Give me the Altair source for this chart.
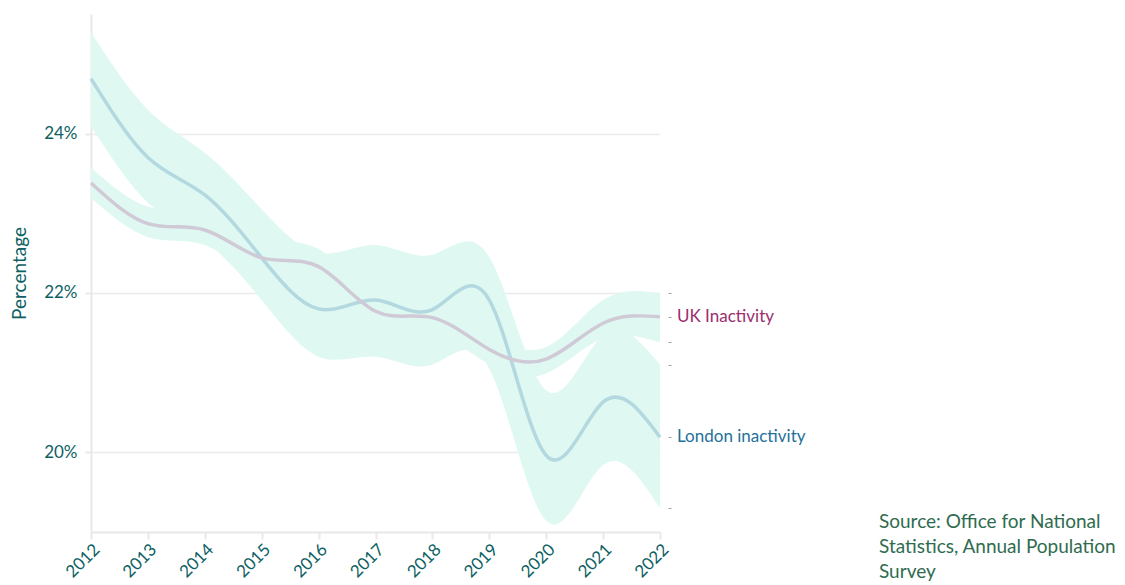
import altair as alt
import pandas as pd

years = [2012, 2013, 2014, 2015, 2016, 2017, 2018, 2019, 2020, 2021, 2022]

london = [24.69, 23.70, 23.23, 22.44, 21.80, 21.91, 21.79, 21.91, 19.96, 20.63, 20.19]
london_low = [24.09, 23.13, 22.65, 21.91, 21.20, 21.20, 21.10, 21.05, 19.14, 19.84, 19.30]
london_high = [25.27, 24.30, 23.76, 23.05, 22.50, 22.60, 22.48, 22.45, 20.78, 21.47, 21.10]

uk = [23.38, 22.87, 22.79, 22.44, 22.33, 21.77, 21.69, 21.29, 21.17, 21.62, 21.70]
uk_low = [23.19, 22.70, 22.60, 22.20, 22.10, 21.55, 21.50, 21.10, 20.99, 21.43, 21.38]
uk_high = [23.57, 23.08, 23.00, 22.70, 22.55, 22.00, 21.90, 21.50, 21.32, 21.91, 22.00]

y_ticks = [20, 22, 24]
source_lines = ["Source: Office for National", "Statistics, Annual Population", "Survey"]

FONT = "Lato"
TEAL = "#0d5f63"
BAND = "#dff9f2"

df = pd.DataFrame({
    "year": years * 2,
    "value": london + uk,
    "low": london_low + uk_low,
    "high": london_high + uk_high,
    "series": ["London inactivity"] * len(years) + ["UK Inactivity"] * len(years),
})

x = alt.X("year:Q",
          scale=alt.Scale(domain=[2012, 2022], nice=False, zero=False),
          axis=alt.Axis(values=years, format="d", title=None, grid=False,
                        labelAngle=-45, labelAlign="right", labelBaseline="top",
                        labelFont=FONT, labelFontSize=17, labelColor=TEAL,
                        labelPadding=2,
                        domainColor="#e8e8e8", domainWidth=2,
                        tickColor="#e8e8e8", tickWidth=2, tickSize=7))
y_scale = alt.Scale(domain=[19, 25.5], nice=False, zero=False)

bands = alt.Chart(df).mark_area(interpolate="natural", color=BAND, opacity=1).encode(
    x=x,
    y=alt.Y("low:Q", scale=y_scale,
            axis=alt.Axis(values=y_ticks, labelExpr="datum.value + '%'",
                          title="Percentage", titleFont=FONT, titleFontSize=19,
                          titleFontWeight="normal", titleColor=TEAL, titlePadding=14,
                          labelFont=FONT, labelFontSize=17, labelColor=TEAL,
                          labelPadding=8,
                          gridColor="#ebebeb", gridWidth=1.5,
                          domainColor="#e8e8e8", domainWidth=2,
                          tickColor="#e8e8e8", tickWidth=2, tickSize=6)),
    y2="high:Q",
    detail="series:N",
)

lines = alt.Chart(df).mark_line(interpolate="natural", strokeWidth=3.5).encode(
    x="year:Q",
    y=alt.Y("value:Q", scale=y_scale),
    color=alt.Color("series:N",
                    scale=alt.Scale(domain=["London inactivity", "UK Inactivity"],
                                    range=["#b3d8e0", "#d0c9d6"]),
                    legend=None),
)

last = df[df["year"] == years[-1]]
labels = alt.Chart(last).mark_text(align="left", baseline="middle", dx=17,
                                   font=FONT, fontSize=17).encode(
    x="year:Q",
    y=alt.Y("value:Q", scale=y_scale),
    text="series:N",
    color=alt.Color("series:N",
                    scale=alt.Scale(domain=["London inactivity", "UK Inactivity"],
                                    range=["#23709a", "#9b2d6e"]),
                    legend=None),
)

tick_df = pd.DataFrame({
    "year": [years[-1]] * 6,
    "v": [uk[-1], london[-1], uk_high[-1], uk_low[-1], london_high[-1], london_low[-1]],
})
small_ticks = alt.Chart(tick_df).mark_text(text="-", align="center", baseline="middle",
                                           dx=10, fontSize=12, color="#9a9a9a",
                                           font=FONT).encode(
    x="year:Q",
    y=alt.Y("v:Q", scale=y_scale),
)

src_df = pd.DataFrame({"t": [source_lines]})
source = alt.Chart(src_df).mark_text(align="left", baseline="top", font=FONT,
                                     fontSize=19, color="#2f6b4f", lineHeight=25).encode(
    x=alt.value(788),
    y=alt.value(499),
    text="t",
)

chart = alt.layer(bands, lines, labels, small_ticks, source).resolve_scale(
    color="independent"
).properties(
    width=569, height=518,
    padding={"left": 83, "top": 6, "right": 457, "bottom": 50},
    autosize=alt.AutoSizeParams(type="none"),
).configure(background="white", view={"stroke": "transparent", "strokeWidth": 0})

chart.save("out.html", embed_options={"renderer": "svg", "actions": False})
